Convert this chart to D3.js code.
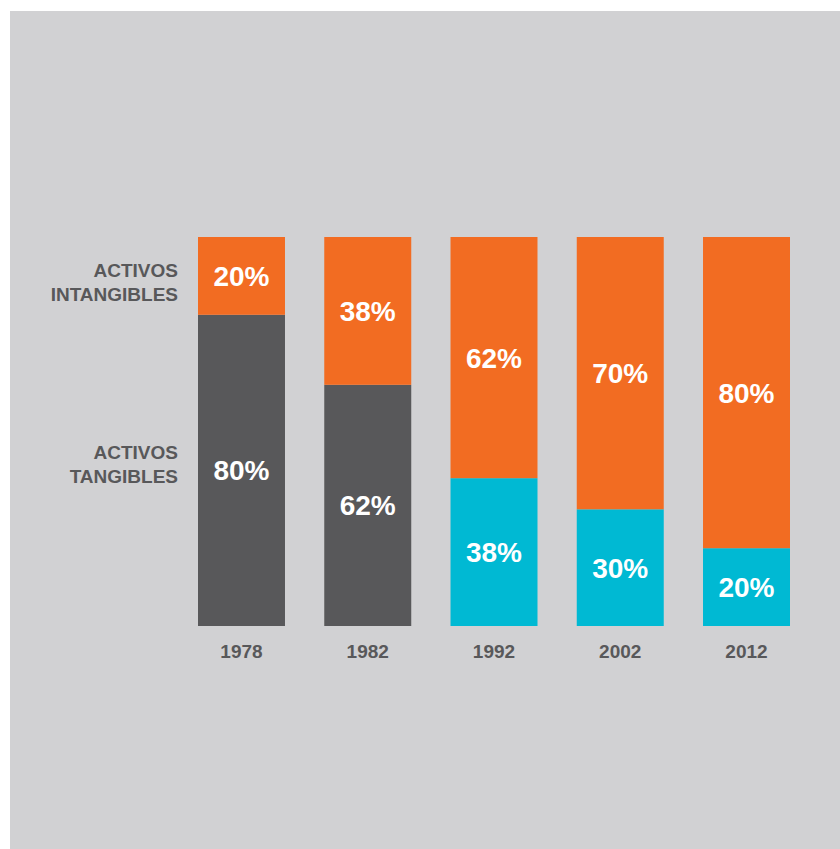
<!DOCTYPE html>
<html>
<head>
<meta charset="utf-8">
<script src="https://cdn.jsdelivr.net/npm/d3@7"></script>
<style>
  html, body { margin: 0; padding: 0; background: #ffffff; }
  svg { display: block; }
</style>
</head>
<body>
<svg id="chart" width="840" height="849"></svg>
<script>
// Years on the x axis
const years = ["1978", "1982", "1992", "2002", "2012"];
// Share of intangible assets (%), top segment
const intangibles = [20, 38, 62, 70, 80];
// Share of tangible assets (%), bottom segment
const tangibles = [80, 62, 38, 30, 20];
// Row labels on the left
const intangibleLabel = ["ACTIVOS", "INTANGIBLES"];
const tangibleLabel = ["ACTIVOS", "TANGIBLES"];

const colors = {
  panel: "#d1d1d3",
  intangible: "#f26c22",
  tangibleOld: "#58585a",
  tangibleNew: "#00b9d3",
  text: "#58585a"
};

const svg = d3.select("#chart");

// Panel background
svg.append("rect")
  .attr("x", 10).attr("y", 11)
  .attr("width", 830).attr("height", 838)
  .attr("fill", colors.panel);

const plotTop = 237, plotBottom = 626;

const x = d3.scaleBand()
  .domain(years)
  .range([198, 790])
  .paddingInner(0.311)
  .paddingOuter(0);

const y = d3.scaleLinear()
  .domain([0, 100])
  .range([plotBottom, plotTop]);

const rows = years.map((yr, i) => ({
  year: yr,
  tang: tangibles[i],
  intang: intangibles[i],
  tangColor: +yr < 1990 ? colors.tangibleOld : colors.tangibleNew
}));

const g = svg.append("g");

// Tangible segment (bottom)
g.selectAll("rect.tang")
  .data(rows)
  .join("rect")
  .attr("class", "tang")
  .attr("x", d => x(d.year))
  .attr("width", x.bandwidth())
  .attr("y", d => y(d.tang))
  .attr("height", d => y(0) - y(d.tang))
  .attr("fill", d => d.tangColor);

// Intangible segment (top)
g.selectAll("rect.intang")
  .data(rows)
  .join("rect")
  .attr("class", "intang")
  .attr("x", d => x(d.year))
  .attr("width", x.bandwidth())
  .attr("y", d => y(d.tang + d.intang))
  .attr("height", d => y(d.tang) - y(d.tang + d.intang))
  .attr("fill", colors.intangible);

const labelFont = "'Liberation Sans', Arial, Helvetica, sans-serif";

// Value labels centred in each segment
g.selectAll("text.tangVal")
  .data(rows)
  .join("text")
  .attr("class", "tangVal")
  .attr("x", d => x(d.year) + x.bandwidth() / 2)
  .attr("y", d => (y(0) + y(d.tang)) / 2)
  .attr("dy", "0.36em")
  .attr("text-anchor", "middle")
  .attr("font-family", labelFont)
  .attr("font-weight", "bold")
  .attr("font-size", 28)
  .attr("fill", "#ffffff")
  .text(d => d.tang + "%");

g.selectAll("text.intangVal")
  .data(rows)
  .join("text")
  .attr("class", "intangVal")
  .attr("x", d => x(d.year) + x.bandwidth() / 2)
  .attr("y", d => (y(d.tang) + y(d.tang + d.intang)) / 2)
  .attr("dy", "0.36em")
  .attr("text-anchor", "middle")
  .attr("font-family", labelFont)
  .attr("font-weight", "bold")
  .attr("font-size", 28)
  .attr("fill", "#ffffff")
  .text(d => d.intang + "%");

// Year axis below the bars
const xAxis = svg.append("g")
  .attr("transform", `translate(0, ${plotBottom})`)
  .call(d3.axisBottom(x).tickSize(0).tickPadding(19));
xAxis.select(".domain").remove();
xAxis.selectAll("text")
  .attr("font-family", labelFont)
  .attr("font-weight", "bold")
  .attr("font-size", 19)
  .attr("fill", colors.text);

// Row labels on the left, right-aligned
function rowLabel(lines, baseline) {
  const t = svg.append("text")
    .attr("text-anchor", "end")
    .attr("font-family", labelFont)
    .attr("font-weight", "bold")
    .attr("font-size", 19)
    .attr("fill", colors.text);
  lines.forEach((s, i) => {
    t.append("tspan")
      .attr("x", 178)
      .attr("y", baseline + i * 24)
      .text(s);
  });
}
rowLabel(intangibleLabel, 277);
rowLabel(tangibleLabel, 459);
</script>
</body>
</html>
